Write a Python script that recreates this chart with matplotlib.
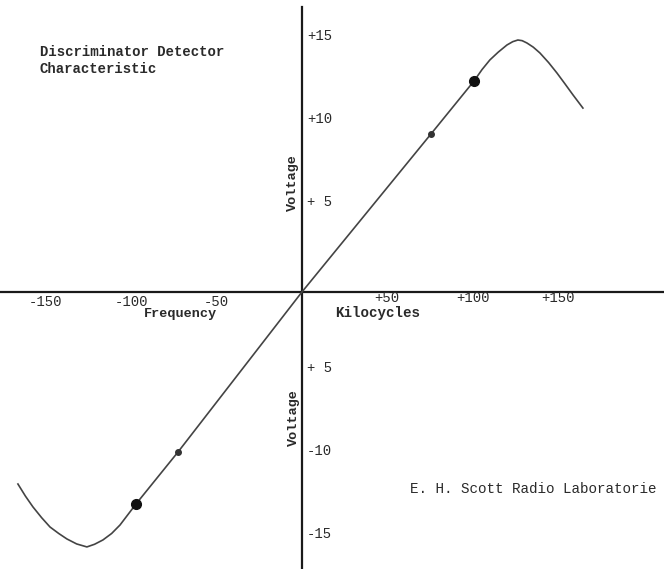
import matplotlib
matplotlib.use('Agg')
import matplotlib.pyplot as plt

# curve (kilocycles, volts)
freq = [-166.4, -162.0, -157.6, -152.5, -147.6, -142.5, -137.7, -132.0, -126.0,
        -121.5, -116.6, -111.5, -106.6, -97.2, -72.6, 0.0, 75.6, 100.8,
        105.5, 110.1, 115.0, 120.1, 123.5, 126.5, 129.0, 131.8, 135.5,
        139.4, 144.5, 149.4, 154.0, 158.8, 164.6]
volts = [-11.57, -12.30, -12.95, -13.60, -14.16, -14.55, -14.88, -15.18, -15.36,
         -15.20, -14.94, -14.55, -14.04, -12.77, -9.64, 0.0, 9.52, 12.71,
         13.40, 13.98, 14.45, 14.88, 15.08, 15.18, 15.14, 15.00, 14.75,
         14.40, 13.82, 13.19, 12.55, 11.87, 11.08]

big_f = [-97.2, 100.8]
big_v = [-12.77, 12.71]
small_f = [-72.6, 75.6]
small_v = [-9.64, 9.52]

xtick_vals = [-150, -100, -50, 50, 100, 150]
xtick_text = ['-150', '-100', '-50', '+50', '+100', '+150']
ytick_vals = [15, 10, 5, -5, -10, -15]
ytick_text = ['+15', '+10', '+ 5', '+ 5', '-10', '-15']

mono = 'Liberation Mono'
ink = '#2a2a2a'

fig = plt.figure(figsize=(6.64, 5.69), dpi=100)
fig.patch.set_facecolor('white')
ax = fig.add_axes([0, 0, 1, 1])
ax.set_xlim(-176.9, 212.1)
ax.set_ylim(-16.69, 17.59)
ax.axis('off')

# hand drawn axes
ax.axhline(0, color='#1a1a1a', lw=1.6)
ax.plot([0, 0], [-16.69, 17.17], color='#1a1a1a', lw=1.6)

ax.plot(freq, volts, color='#444444', lw=1.2)
ax.plot(big_f, big_v, 'o', color='#111111', ms=7)
ax.plot(small_f, small_v, 'o', color='#333333', ms=4)

for v, t in zip(xtick_vals, xtick_text):
    yy = -0.6 if v < 0 else -0.35
    ax.text(v, yy, t, family=mono, fontsize=10, color=ink, ha='center', va='center')
for v, t in zip(ytick_vals, ytick_text):
    ax.text(2.9, v + 0.4, t, family=mono, fontsize=10, color=ink, ha='left', va='center')

ax.text(-153.5, 14.9, 'Discriminator Detector\nCharacteristic', family=mono,
        fontsize=10.1, fontweight='bold', color=ink, ha='left', va='top', linespacing=1.28)
ax.text(-70.9, -1.33, 'Frequency', family=mono, fontsize=9.7, fontweight='bold',
        color=ink, ha='center', va='center')
ax.text(19.3, -1.27, 'Kilocycles', family=mono, fontsize=10.2, fontweight='bold',
        color=ink, ha='left', va='center')
ax.text(-5.3, 6.57, 'Voltage', family=mono, fontsize=9.7, fontweight='bold',
        color=ink, ha='center', va='center', rotation=90)
ax.text(-4.7, -7.59, 'Voltage', family=mono, fontsize=9.7, fontweight='bold',
        color=ink, ha='center', va='center', rotation=90)
# the scan is cropped at the right edge, only this much of the line shows
ax.text(63.3, -11.87, 'E. H. Scott Radio Laboratorie', family=mono, fontsize=10.3,
        color=ink, ha='left', va='center')

fig.savefig('out.png', dpi=100)
